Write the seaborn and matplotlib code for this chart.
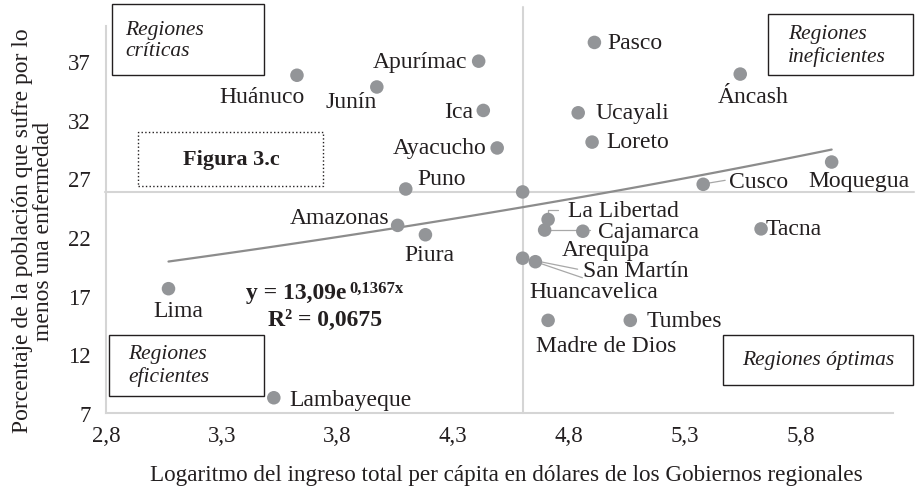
import numpy as np
import pandas as pd
import seaborn as sns
import matplotlib.pyplot as plt
from matplotlib.patches import Rectangle

# values
regions = ["Huánuco", "Junín", "Apurímac", "Ica", "Ayacucho", "Puno", "Amazonas",
           "Piura", "Lima", "Lambayeque", "Pasco", "Ucayali", "Loreto", "Áncash",
           "Moquegua", "Cusco", "La Libertad", "Cajamarca", "Arequipa", "Tacna",
           "San Martín", "Huancavelica", "Madre de Dios", "Tumbes"]
log_income = [3.625, 3.97, 4.41, 4.43, 4.49, 4.095, 4.06,
              4.18, 3.07, 3.525, 4.91, 4.84, 4.90, 5.54,
              5.935, 5.38, 4.71, 4.695, 4.86, 5.63,
              4.60, 4.655, 4.71, 5.065]
sick_pct = [35.8, 34.8, 37.0, 32.8, 29.6, 26.1, 23.0,
            22.2, 17.6, 8.3, 38.6, 32.6, 30.1, 35.9,
            28.4, 26.5, 23.5, 22.6, 22.5, 22.7,
            20.2, 19.9, 14.9, 14.9]
mean_x, mean_y = 4.60, 25.85
fit_a, fit_b = 13.09, 0.1367
r2 = 0.0675
x_ticks = [2.8, 3.3, 3.8, 4.3, 4.8, 5.3, 5.8]
y_ticks = [7, 12, 17, 22, 27, 32, 37]

# label placement in pixels relative to the point (dx right, dy down)
label_pos = {
    "Huánuco": (-35, 21, "center"), "Junín": (-26, 15, "center"),
    "Apurímac": (-11, 0, "right"), "Ica": (-10, 1, "right"),
    "Ayacucho": (-11, 0, "right"), "Puno": (12, -11, "left"),
    "Amazonas": (-8, -8, "right"), "Piura": (4, 20, "center"),
    "Lima": (10, 22, "center"), "Lambayeque": (16, 2, "left"),
    "Pasco": (13, 0, "left"), "Ucayali": (17, 0, "left"),
    "Loreto": (14, -1, "left"), "Áncash": (13, 22, "center"),
    "Moquegua": (27, 18, "center"), "Cusco": (26, -3, "left"),
    "La Libertad": (20, -9, "left"), "Cajamarca": (53, 1, "left"),
    "Arequipa": (23, 18, "center"), "Tacna": (5, 0, "left"),
    "San Martín": (60, 12, "left"), "Huancavelica": (58, 30, "center"),
    "Madre de Dios": (58, 25, "center"), "Tumbes": (16, 0, "left"),
}
leaders = {
    "Cusco": [(4, -1), (22, -4)],
    "La Libertad": [(0, 0), (0, -9), (10, -9)],
    "Cajamarca": [(0, 0), (45, 0)],
    "San Martín": [(0, 0), (55, 11)],
    "Huancavelica": [(0, 0), (47, 16)],
}

df = pd.DataFrame({"region": regions, "x": log_income, "y": sick_pct})

sns.set_theme(style="white")
plt.rcParams['font.family'] = ['Liberation Serif', 'DejaVu Serif']
ink = '#231f20'
W, H = 916, 502

fig = plt.figure(figsize=(W / 100, H / 100), dpi=100)
ax = fig.add_axes([106 / W, (H - 414) / H, 787 / W, 387 / H])
ax.set_xlim(2.8, 6.2)
ax.set_ylim(7, 40)


def shifted(x, y, dx, dy):
    px, py = ax.transData.transform((x, y))
    return ax.transData.inverted().transform((px + dx, py - dy))


def fig_xy(px, py):
    return px / W, 1 - py / H


# quadrant lines through the average point
ax.plot([2.795, 6.29], [mean_y, mean_y], color='#d5d5d5', lw=1.5, clip_on=False, zorder=1)
ax.plot([mean_x, mean_x], [7, 41.6], color='#d5d5d5', lw=1.5, clip_on=False, zorder=1)

# exponential trend line
xs = np.linspace(min(log_income), max(log_income), 100)
sns.lineplot(x=xs, y=fit_a * np.exp(fit_b * xs), ax=ax, color='#8c8c8c', lw=1.6, zorder=2)

# leader lines
for name, path in leaders.items():
    row = df[df.region == name].iloc[0]
    pts = np.array([shifted(row.x, row.y, dx, dy) for dx, dy in path])
    ax.plot(pts[:, 0], pts[:, 1], color='#a8a8a8', lw=0.9, zorder=3)

sns.scatterplot(data=df, x="x", y="y", ax=ax, color='#939598', s=95,
                edgecolor='none', zorder=4, legend=False)
ax.scatter([mean_x], [mean_y], color='#939598', s=95, edgecolor='none', zorder=4)

for _, row in df.iterrows():
    dx, dy, ha = label_pos[row.region]
    tx, ty = shifted(row.x, row.y, dx, dy)
    ax.text(tx, ty, row.region, ha=ha, va='center', fontsize=17, color=ink, zorder=5)

ax.set_xticks(x_ticks)
ax.set_xticklabels([f"{t:.1f}".replace('.', ',') for t in x_ticks])
ax.set_yticks(y_ticks)
ax.set_yticklabels([str(t) for t in y_ticks])
ax.tick_params(length=0, labelsize=16.5, colors=ink)
ax.tick_params(axis='x', pad=9)
ax.tick_params(axis='y', pad=11)
ax.set_xlabel("")
ax.set_ylabel("")
for side in ['top', 'right']:
    ax.spines[side].set_visible(False)
for side in ['left', 'bottom']:
    ax.spines[side].set_color('#d5d5d5')
    ax.spines[side].set_linewidth(1.5)

fig.text(*fig_xy(506, 475), "Logaritmo del ingreso total per cápita en dólares de los Gobiernos regionales",
         ha='center', va='center', fontsize=16.7, color=ink)
fig.text(*fig_xy(33, 231), "Porcentaje de la población que sufre por lo\nmenos una enfermedad",
         ha='center', va='center', rotation=90, fontsize=17, color=ink,
         multialignment='center', linespacing=1.0)

# quadrant boxes
boxes = [
    (112, 5, 264, 76, '-'),
    (768, 15, 913, 76, '-'),
    (109, 336, 264, 397, '-'),
    (723, 336, 913, 386, '-'),
    (138, 133, 323, 187, ':'),
]
for x1, y1, x2, y2, ls in boxes:
    fig.add_artist(Rectangle(fig_xy(x1, y2), (x2 - x1) / W, (y2 - y1) / H,
                             transform=fig.transFigure, fill=False, edgecolor=ink,
                             lw=1.0, linestyle=ls))

box_text = dict(ha='left', va='center', fontsize=15.5, style='italic', color=ink, linespacing=1.2)
fig.text(*fig_xy(125, 41), "Regiones\ncríticas", **box_text)
fig.text(*fig_xy(788, 46), "Regiones\nineficientes", **box_text)
fig.text(*fig_xy(128, 366), "Regiones\neficientes", **box_text)
fig.text(*fig_xy(818, 361), "Regiones óptimas", ha='center', va='center', fontsize=15.5,
         style='italic', color=ink)
fig.text(*fig_xy(231, 160), "Figura 3.c", ha='center', va='center', fontsize=16,
         weight='bold', color=ink)

# fitted equation
fig.text(*fig_xy(346, 294), f"y = {fit_a:.2f}e".replace('.', ','), ha='right', va='center',
         fontsize=17, weight='bold', color=ink)
fig.text(*fig_xy(349, 289), f"{fit_b:.4f}x".replace('.', ','), ha='left', va='center',
         fontsize=12, weight='bold', color=ink)
fig.text(*fig_xy(325, 320), f"R² = {r2:.4f}".replace('.', ','), ha='center', va='center',
         fontsize=17, weight='bold', color=ink)

fig.savefig("out.png", dpi=100)
